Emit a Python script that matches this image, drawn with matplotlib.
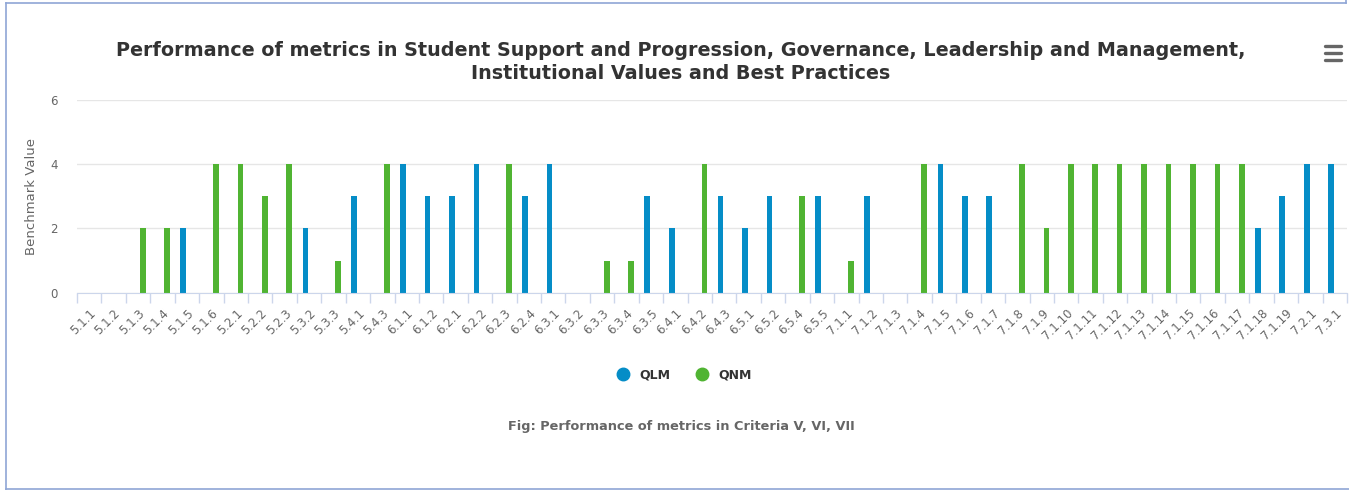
import numpy as np
import matplotlib.pyplot as plt
from matplotlib.lines import Line2D

# Data
categories = ["5.1.1", "5.1.2", "5.1.3", "5.1.4", "5.1.5", "5.1.6", "5.2.1", "5.2.2",
              "5.2.3", "5.3.2", "5.3.3", "5.4.1", "5.4.3", "6.1.1", "6.1.2", "6.2.1",
              "6.2.2", "6.2.3", "6.2.4", "6.3.1", "6.3.2", "6.3.3", "6.3.4", "6.3.5",
              "6.4.1", "6.4.2", "6.4.3", "6.5.1", "6.5.2", "6.5.4", "6.5.5", "7.1.1",
              "7.1.2", "7.1.3", "7.1.4", "7.1.5", "7.1.6", "7.1.7", "7.1.8", "7.1.9",
              "7.1.10", "7.1.11", "7.1.12", "7.1.13", "7.1.14", "7.1.15", "7.1.16",
              "7.1.17", "7.1.18", "7.1.19", "7.2.1", "7.3.1"]

qlm = [0, 0, 0, 0, 2, 0, 0, 0, 0, 2, 0, 3, 0, 4, 3, 3,
       4, 0, 3, 4, 0, 0, 0, 3, 2, 0, 3, 2, 3, 0, 3, 0,
       3, 0, 0, 4, 3, 3, 0, 0, 0, 0, 0, 0, 0, 0, 0,
       0, 2, 3, 4, 4]

qnm = [0, 0, 2, 2, 0, 4, 4, 3, 4, 0, 1, 0, 4, 0, 0, 0,
       0, 4, 0, 0, 0, 1, 1, 0, 0, 4, 0, 0, 0, 3, 0, 1,
       0, 0, 4, 0, 0, 0, 4, 2, 4, 4, 4, 4, 4, 4, 4,
       4, 0, 0, 0, 0]

title = ("Performance of metrics in Student Support and Progression, Governance, "
         "Leadership and Management,\nInstitutional Values and Best Practices")
caption = "Fig: Performance of metrics in Criteria V, VI, VII"

BLUE = "#058DC7"
GREEN = "#50B432"
W, H = 1349, 490

fig = plt.figure(figsize=(W / 100, H / 100), dpi=100)
ax = fig.add_axes([77 / W, 1 - 292.7 / H, 1270 / W, 192.7 / H])

x = np.arange(len(categories))
bw = 0.23
ax.bar(x - 0.15, qlm, width=bw, color=BLUE, zorder=3)
ax.bar(x + 0.19, qnm, width=bw, color=GREEN, zorder=3)

ax.set_xlim(-0.5, len(categories) - 0.5)
ax.set_ylim(0, 6)
ax.set_yticks([0, 2, 4, 6])
ax.grid(axis="y", color="#e6e6e6", linewidth=1, zorder=0)
ax.tick_params(axis="y", length=0, labelsize=8.5, labelcolor="#666666", pad=14)
ax.set_ylabel("Benchmark Value", fontsize=9.5, color="#666666", labelpad=9)

ax.set_xticks(x)
ax.set_xticklabels(categories, rotation=45, ha="right", rotation_mode="anchor")
ax.tick_params(axis="x", which="major", length=0, labelsize=8.5,
               labelcolor="#666666", pad=10)
ax.set_xticks(np.arange(len(categories) + 1) - 0.5, minor=True)
ax.tick_params(axis="x", which="minor", length=7, color="#ccd6eb", width=1)

for s in ["top", "right", "left"]:
    ax.spines[s].set_visible(False)
ax.spines["bottom"].set_color("#ccd6eb")
ax.spines["bottom"].set_zorder(4)

fig.text(681 / W, 1 - 62 / H, title, ha="center", va="center", fontsize=13.8,
         fontweight="bold", color="#333333", linespacing=1.25)

handles = [Line2D([], [], marker="o", linestyle="", markersize=9, color=BLUE),
           Line2D([], [], marker="o", linestyle="", markersize=9, color=GREEN)]
fig.legend(handles, ["QLM", "QNM"], loc="center", bbox_to_anchor=(681 / W, 1 - 375 / H),
           ncol=2, frameon=False, handletextpad=0.3, columnspacing=1.5,
           prop={"weight": "bold", "size": 9}, labelcolor="#333333")

fig.text(681 / W, 1 - 426 / H, caption, ha="center", va="center", fontsize=9.3,
         fontweight="bold", color="#666666")

# export menu icon
for yy in (46, 53, 60):
    fig.add_artist(Line2D([1325 / W, 1341 / W], [1 - yy / H, 1 - yy / H],
                          color="#666666", linewidth=2.4, solid_capstyle="round"))

# page border
bc = "#8fa6d6"
fig.add_artist(Line2D([5.5 / W, 5.5 / W], [0, 1 - 3 / H], color=bc, linewidth=1.2))
fig.add_artist(Line2D([5.5 / W, 1346 / W], [1 - 3 / H, 1 - 3 / H], color=bc, linewidth=1.2))
fig.add_artist(Line2D([1346 / W, 1346 / W], [1 - 3 / H, 1], color=bc, linewidth=1.2))
fig.add_artist(Line2D([5.5 / W, 1], [1 - 488.5 / H, 1 - 488.5 / H], color=bc, linewidth=1.2))

fig.savefig("out.png", dpi=100)
